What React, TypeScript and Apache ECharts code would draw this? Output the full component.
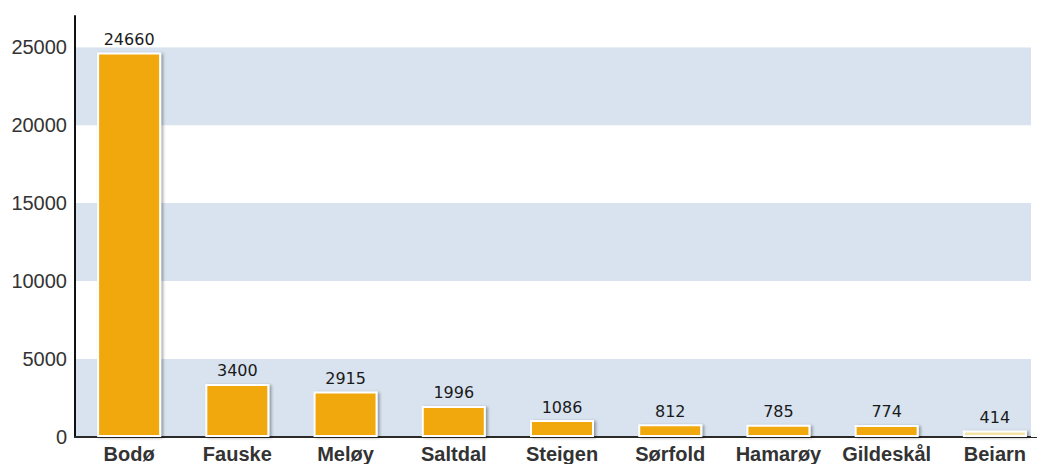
import React, { useEffect, useRef } from "react";
import * as echarts from "echarts";

const categories = ["Bodø", "Fauske", "Meløy", "Saltdal", "Steigen", "Sørfold", "Hamarøy", "Gildeskål", "Beiarn"];
const values = [24660, 3400, 2915, 1996, 1086, 812, 785, 774, 414];
const yTicks = [0, 5000, 10000, 15000, 20000, 25000];

export default function App() {
  const ref = useRef<HTMLDivElement>(null);
  useEffect(() => {
    if (!ref.current) return;
    const chart = echarts.init(ref.current, null, { renderer: "svg" });
    chart.setOption({
      animation: false,
      backgroundColor: "#ffffff",
      grid: { left: 75, top: 16, width: 974, bottom: 26, containLabel: false },
      xAxis: {
        type: "category",
        data: categories,
        axisLine: { show: true, lineStyle: { color: "#2a2a2a", width: 2 } },
        axisTick: { show: false },
        axisLabel: {
          fontFamily: "Liberation Sans, Arial, sans-serif",
          fontWeight: "bold",
          fontSize: 20,
          color: "#333333",
          margin: 7,
          interval: 0,
        },
      },
      yAxis: {
        type: "value",
        min: 0,
        max: 27000,
        interval: 5000,
        axisLine: { show: true, lineStyle: { color: "#111111", width: 2 } },
        axisTick: { show: false },
        splitLine: { show: false },
        splitArea: { show: true, areaStyle: { color: ["#d8e3ef", "#ffffff"] } },
        axisLabel: {
          fontFamily: "Liberation Sans, Arial, sans-serif",
          fontSize: 20,
          color: "#333333",
          margin: 8,
          showMaxLabel: false,
          formatter: (v: number) => (yTicks.indexOf(v) >= 0 ? String(v) : ""),
        },
      },
      series: [
        {
          type: "bar",
          data: values,
          barWidth: 64,
          itemStyle: {
            color: (p: any) => (p.dataIndex === values.length - 1 ? "#f3e3a6" : "#f0a80e"),
            borderColor: "#ffffff",
            borderWidth: 2,
            shadowColor: "rgba(0,0,0,0.35)",
            shadowBlur: 3,
            shadowOffsetX: 2,
            shadowOffsetY: 1,
          },
          label: {
            show: true,
            position: "top",
            distance: 5,
            fontFamily: "DejaVu Sans, sans-serif",
            fontSize: 16,
            color: "#1a1a1a",
          },
        },
      ],
      graphic: [
        {
          type: "rect",
          shape: { x: 1031, y: 0, width: 40, height: 437 },
          style: { fill: "#ffffff" },
          z: 1,
          silent: true,
        },
      ],
    });
    return () => chart.dispose();
  }, []);
  return (
    <div style={{ position: "fixed", left: 0, top: 0, width: 1037, height: 464, overflow: "hidden" }}>
      <div ref={ref} style={{ width: 1070, height: 464 }} />
    </div>
  );
}
